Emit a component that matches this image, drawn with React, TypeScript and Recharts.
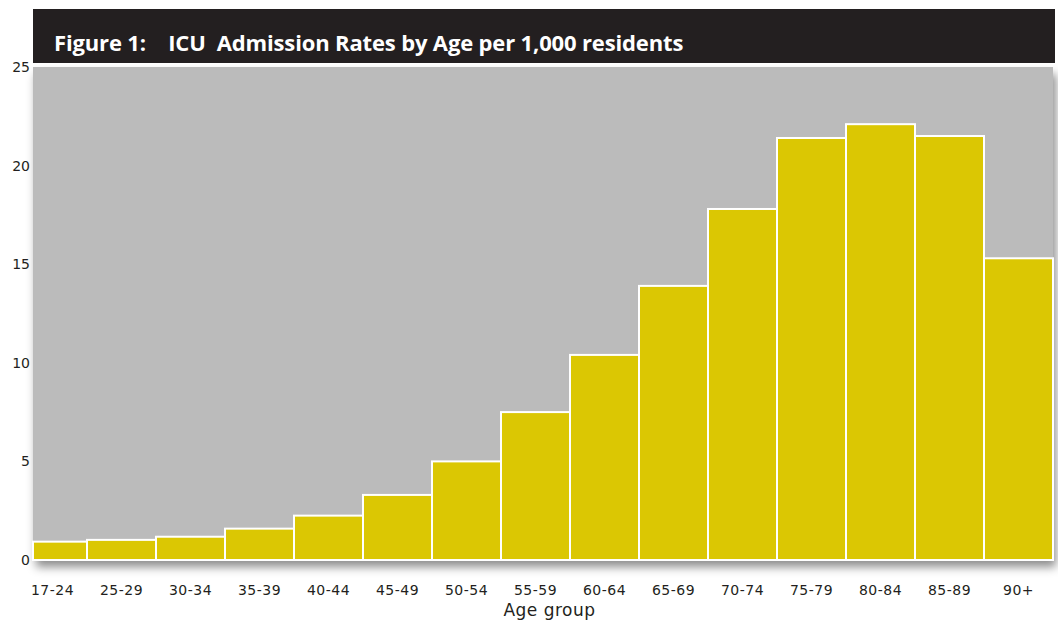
import { BarChart, Bar, XAxis, YAxis, Label } from "recharts";

const AGE_GROUPS = [
  "17-24", "25-29", "30-34", "35-39", "40-44", "45-49", "50-54", "55-59",
  "60-64", "65-69", "70-74", "75-79", "80-84", "85-89", "90+",
];
const RATES = [0.93, 1.02, 1.18, 1.59, 2.25, 3.3, 5.0, 7.5, 10.4, 13.9, 17.8, 21.4, 22.1, 21.5, 15.3];
const Y_TICKS = [0, 5, 10, 15, 20, 25];

const data = AGE_GROUPS.map((group, i) => ({ group, rate: RATES[i] }));

const WIDTH = 1058;
const HEIGHT = 621;
// grey panel starts here; the first band reaches a little further left and is cut off
const PANEL_LEFT = 33;
const PANEL_RIGHT = 1053;
const PANEL_TOP = 67;
const PANEL_BOTTOM = 560;

const BAR_FILL = "#dbc703";
const TEXT = "#231f20";
const FONT = "'DejaVu Sans', sans-serif";

function PanelBar(props: any) {
  const { x, y, width, height, fill } = props;
  const left = Math.max(x, PANEL_LEFT);
  return (
    <rect
      x={left}
      y={y}
      width={x + width - left}
      height={height}
      fill={fill}
      stroke="#ffffff"
      strokeWidth={2}
    />
  );
}

export default function App() {
  return (
    <div
      style={{
        position: "absolute",
        left: 0,
        top: 0,
        width: WIDTH,
        height: HEIGHT,
        background: "#ffffff",
        overflow: "hidden",
      }}
    >
      <div
        style={{
          position: "absolute",
          left: PANEL_LEFT,
          top: 9,
          width: 1022,
          height: 54,
          background: "#231f20",
          color: "#ffffff",
          fontFamily: "'Open Sans', sans-serif",
          fontWeight: 700,
          fontSize: 22,
          lineHeight: "66px",
          paddingLeft: 21,
          boxSizing: "border-box",
          whiteSpace: "pre",
          overflow: "hidden",
          letterSpacing: -0.15,
        }}
      >
        {"Figure 1:    ICU  Admission Rates by Age per 1,000 residents"}
      </div>
      <div
        style={{
          position: "absolute",
          left: PANEL_LEFT,
          top: PANEL_TOP,
          width: PANEL_RIGHT - PANEL_LEFT,
          height: PANEL_BOTTOM - PANEL_TOP,
          background: "#bbbbbb",
          boxShadow: "3px 7px 9px rgba(0,0,0,0.45)",
        }}
      />
      <div style={{ position: "absolute", left: 0, top: 0 }}>
        <BarChart
          width={WIDTH}
          height={HEIGHT}
          data={data}
          barCategoryGap={0}
          margin={{ top: PANEL_TOP, right: WIDTH - PANEL_RIGHT, bottom: 0, left: 0 }}
        >
          <XAxis
            dataKey="group"
            axisLine={false}
            tickLine={false}
            tickSize={0}
            tickMargin={25}
            height={HEIGHT - PANEL_BOTTOM}
            interval={0}
            tick={{ fill: TEXT, fontSize: 14, fontFamily: FONT, letterSpacing: 0.5 }}
          >
            <Label
              value="Age group"
              position="insideBottom"
              offset={5}
              dx={14}
              style={{ fill: TEXT, fontSize: 17, fontFamily: FONT, letterSpacing: 0.5 }}
            />
          </XAxis>
          <YAxis
            domain={[0, 25]}
            ticks={Y_TICKS}
            width={18}
            axisLine={false}
            tickLine={false}
            tickSize={0}
            tickMargin={0}
            tick={{ fill: TEXT, fontSize: 14, fontFamily: FONT, dx: 12 }}
          />
          <Bar
            dataKey="rate"
            fill={BAR_FILL}
            shape={PanelBar}
            isAnimationActive={false}
          />
        </BarChart>
      </div>
    </div>
  );
}
